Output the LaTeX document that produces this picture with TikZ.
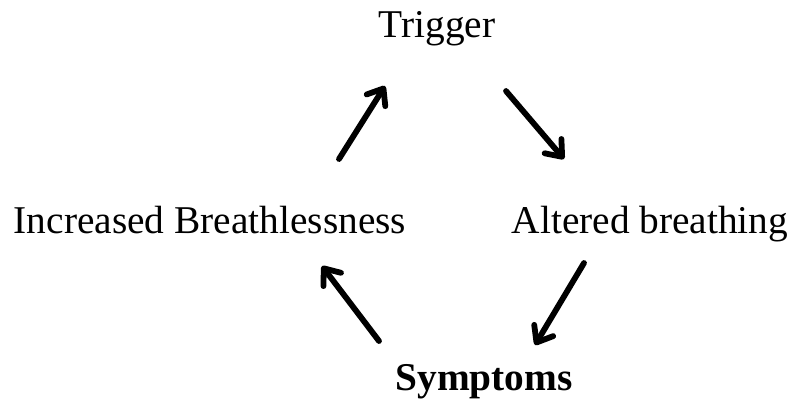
\documentclass[tikz,border=0pt]{standalone}
\usepackage{fontspec}
\setmainfont{Liberation Serif}
\usetikzlibrary{arrows.meta}
\begin{document}
\begin{tikzpicture}[x=1bp,y=-1bp,
  lbl/.style={anchor=base,inner sep=0pt,font=\fontsize{39.5}{46}\selectfont},
  cyc/.style={line width=5.8bp,line cap=round,line join=round,
    -{Straight Barb[length=14bp,width=22bp,round]}}]
\useasboundingbox (0,0) rectangle (795,403);
\node[lbl] (trig) at (437,37) {Trigger};
\node[lbl] (inc) at (210,233) {Increased Breathlessness};
\node[lbl] (alt) at (650,233) {Altered breathing};
\node[lbl,font=\fontsize{39.5}{46}\selectfont\bfseries] (sym) at (484,390) {Symptoms};
\coordinate (a1s) at (339,159);
\coordinate (a1e) at (385,86);
\coordinate (a2s) at (506,91);
\coordinate (a2e) at (564,159);
\coordinate (a3s) at (584,263);
\coordinate (a3e) at (535,345);
\coordinate (a4s) at (379,341);
\coordinate (a4e) at (322,266);
\draw[cyc] (a1s) -- (a1e);
\draw[cyc] (a2s) -- (a2e);
\draw[cyc] (a3s) -- (a3e);
\draw[cyc] (a4s) -- (a4e);
\end{tikzpicture}
\end{document}
